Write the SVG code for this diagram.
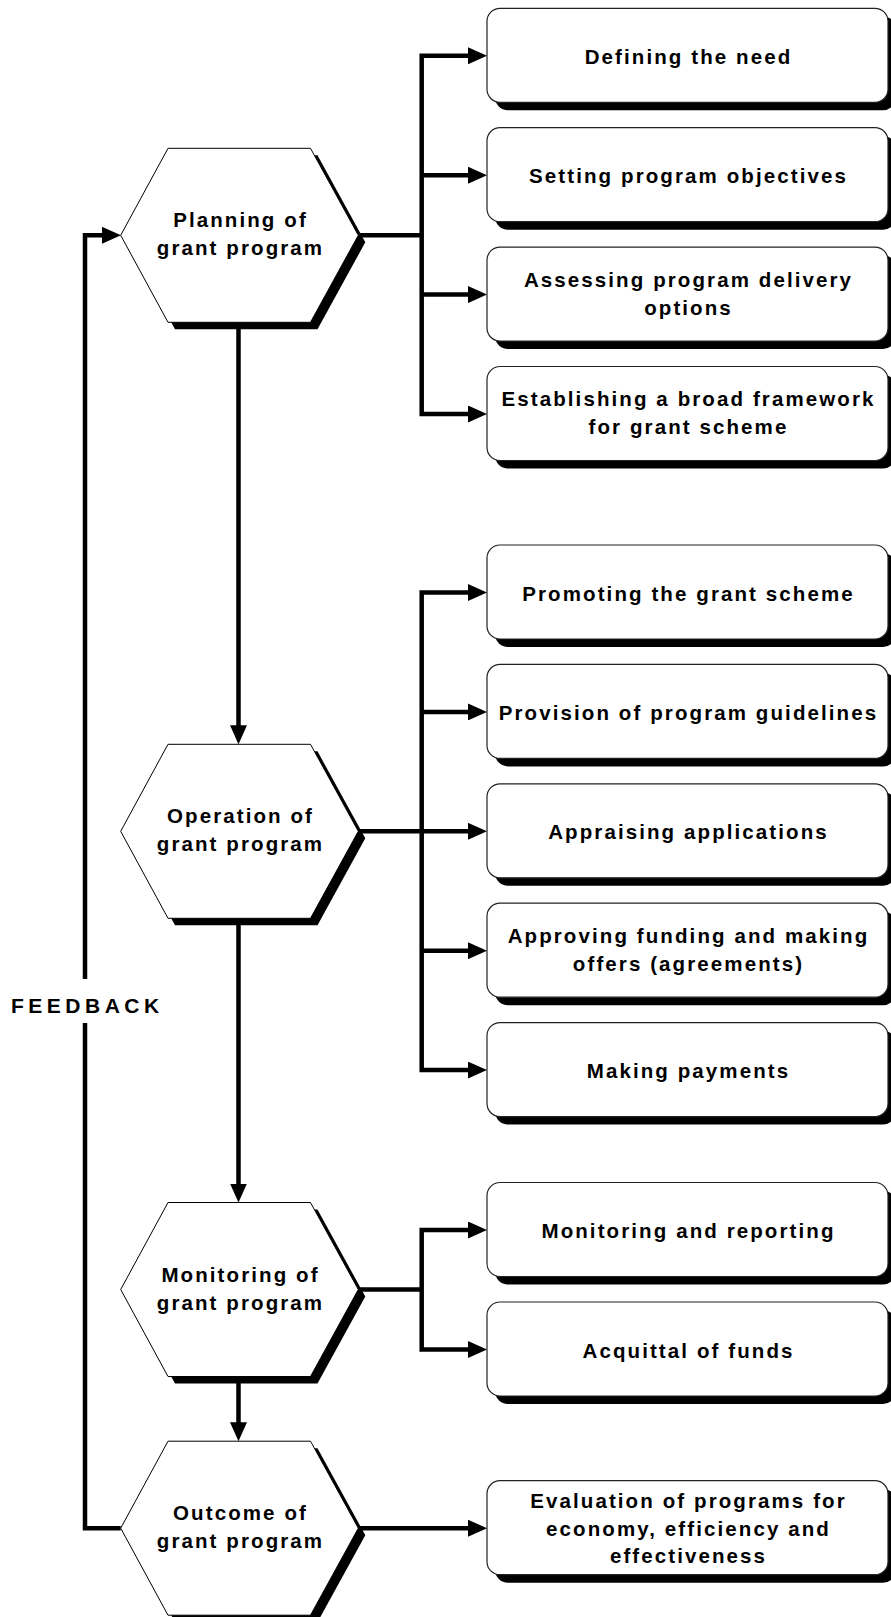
<svg xmlns="http://www.w3.org/2000/svg" xmlns:xlink="http://www.w3.org/1999/xlink" width="891" height="1617" viewBox="0 0 891 1617">
<style>
.hex{fill:#fff;stroke:#000;stroke-width:1}
.sh{fill:#000;stroke:none}
.box{fill:#fff;stroke:#222;stroke-width:1.2}
.t{font-family:"Liberation Sans",Arial,sans-serif;font-weight:bold;font-size:20.5px;letter-spacing:2.1px;fill:#000;text-anchor:middle}
.fb{font-family:"Liberation Sans",Arial,sans-serif;font-weight:bold;font-size:21px;letter-spacing:4.5px;fill:#000}
.c{fill:none;stroke:#000;stroke-width:4.5;stroke-linejoin:miter}
.a{marker-end:url(#ah)}
.a2{marker-start:url(#ah);marker-end:url(#ah)}
</style>
<defs>
<marker id="ah" markerUnits="userSpaceOnUse" markerWidth="19" markerHeight="17" viewBox="0 0 19 17" refX="12" refY="8.5" orient="auto-start-reverse">
<path d="M0,0 L19,8.5 L0,17 z" fill="#000"/>
</marker>
<polygon id="hx" points="168,0 310.5,0 358.3,87 310.5,174 168,174 120.7,87"/>
</defs>
<rect width="891" height="1617" fill="#fff"/>
<g id="connectors">
<path class="c" d="M358.3,235.3 H421.7"/>
<path class="c a2" d="M480,55.8 H421.7 V414 H480"/>
<path class="c a" d="M421.7,175.2 H480"/>
<path class="c a" d="M421.7,294.6 H480"/>
<path class="c a2" d="M480,592.5 H421.7 V1070.1 H480"/>
<path class="c a" d="M421.7,711.9 H480"/>
<path class="c a" d="M358.3,831.3 H480"/>
<path class="c a" d="M421.7,950.7 H480"/>
<path class="c a2" d="M480,1230 H421.7 V1349.5 H480"/>
<path class="c" d="M358.3,1289.5 H421.7"/>
<path class="c a" d="M358.3,1528.2 H480"/>
<path class="c a" d="M238.5,322 V737.3"/>
<path class="c a" d="M238.5,918 V1195.5"/>
<path class="c a" d="M238.5,1376 V1434.2"/>
<path class="c" d="M120.7,1528.2 H85 V1023"/>
<path class="c a" d="M85,979 V235.3 H114"/>
<text class="fb" x="11" y="1013.3">FEEDBACK</text>
</g>
<g id="hex-planning" transform="translate(0,148.3)">
<use xlink:href="#hx" class="sh" transform="translate(7,7)"/>
<use xlink:href="#hx" class="hex"/>
<text class="t" x="240.5" y="79">Planning of</text>
<text class="t" x="240.5" y="107">grant program</text>
</g>
<g id="hex-operation" transform="translate(0,744.3)">
<use xlink:href="#hx" class="sh" transform="translate(7,7)"/>
<use xlink:href="#hx" class="hex"/>
<text class="t" x="240.5" y="79">Operation of</text>
<text class="t" x="240.5" y="107">grant program</text>
</g>
<g id="hex-monitoring" transform="translate(0,1202.5)">
<use xlink:href="#hx" class="sh" transform="translate(7,7)"/>
<use xlink:href="#hx" class="hex"/>
<text class="t" x="240.5" y="79">Monitoring of</text>
<text class="t" x="240.5" y="107">grant program</text>
</g>
<g id="hex-outcome" transform="translate(0,1441.2)">
<use xlink:href="#hx" class="sh" transform="translate(7,7)"/>
<use xlink:href="#hx" class="hex"/>
<text class="t" x="240.5" y="79">Outcome of</text>
<text class="t" x="240.5" y="107">grant program</text>
</g>
<g id="box-defining" transform="translate(0,8.3)">
<rect class="sh" x="495" y="8" width="401" height="94" rx="13"/>
<rect class="box" x="487" y="0" width="401" height="94" rx="13"/>
<text class="t" x="688.5" y="55.7">Defining the need</text>
</g>
<g id="box-setting" transform="translate(0,127.7)">
<rect class="sh" x="495" y="8" width="401" height="94" rx="13"/>
<rect class="box" x="487" y="0" width="401" height="94" rx="13"/>
<text class="t" x="688.5" y="55.7">Setting program objectives</text>
</g>
<g id="box-assessing" transform="translate(0,247.1)">
<rect class="sh" x="495" y="8" width="401" height="94" rx="13"/>
<rect class="box" x="487" y="0" width="401" height="94" rx="13"/>
<text class="t" x="688.5" y="39.5">Assessing program delivery</text>
<text class="t" x="688.5" y="67.5">options</text>
</g>
<g id="box-establishing" transform="translate(0,366.5)">
<rect class="sh" x="495" y="8" width="401" height="94" rx="13"/>
<rect class="box" x="487" y="0" width="401" height="94" rx="13"/>
<text class="t" x="688.5" y="39.5">Establishing a broad framework</text>
<text class="t" x="688.5" y="67.5">for grant scheme</text>
</g>
<g id="box-promoting" transform="translate(0,545)">
<rect class="sh" x="495" y="8" width="401" height="94" rx="13"/>
<rect class="box" x="487" y="0" width="401" height="94" rx="13"/>
<text class="t" x="688.5" y="55.7">Promoting the grant scheme</text>
</g>
<g id="box-provision" transform="translate(0,664.4)">
<rect class="sh" x="495" y="8" width="401" height="94" rx="13"/>
<rect class="box" x="487" y="0" width="401" height="94" rx="13"/>
<text class="t" x="688.5" y="55.7">Provision of program guidelines</text>
</g>
<g id="box-appraising" transform="translate(0,783.8)">
<rect class="sh" x="495" y="8" width="401" height="94" rx="13"/>
<rect class="box" x="487" y="0" width="401" height="94" rx="13"/>
<text class="t" x="688.5" y="55.7">Appraising applications</text>
</g>
<g id="box-approving" transform="translate(0,903.2)">
<rect class="sh" x="495" y="8" width="401" height="94" rx="13"/>
<rect class="box" x="487" y="0" width="401" height="94" rx="13"/>
<text class="t" x="688.5" y="39.5">Approving funding and making</text>
<text class="t" x="688.5" y="67.5">offers (agreements)</text>
</g>
<g id="box-payments" transform="translate(0,1022.6)">
<rect class="sh" x="495" y="8" width="401" height="94" rx="13"/>
<rect class="box" x="487" y="0" width="401" height="94" rx="13"/>
<text class="t" x="688.5" y="55.7">Making payments</text>
</g>
<g id="box-monitoring" transform="translate(0,1182.5)">
<rect class="sh" x="495" y="8" width="401" height="94" rx="13"/>
<rect class="box" x="487" y="0" width="401" height="94" rx="13"/>
<text class="t" x="688.5" y="55.7">Monitoring and reporting</text>
</g>
<g id="box-acquittal" transform="translate(0,1302)">
<rect class="sh" x="495" y="8" width="401" height="94" rx="13"/>
<rect class="box" x="487" y="0" width="401" height="94" rx="13"/>
<text class="t" x="688.5" y="55.7">Acquittal of funds</text>
</g>
<g id="box-evaluation" transform="translate(0,1480.7)">
<rect class="sh" x="495" y="8" width="401" height="94" rx="13"/>
<rect class="box" x="487" y="0" width="401" height="94" rx="13"/>
<text class="t" x="688.5" y="27.6">Evaluation of programs for</text>
<text class="t" x="688.5" y="55.3">economy, efficiency and</text>
<text class="t" x="688.5" y="82">effectiveness</text>
</g>
</svg>
